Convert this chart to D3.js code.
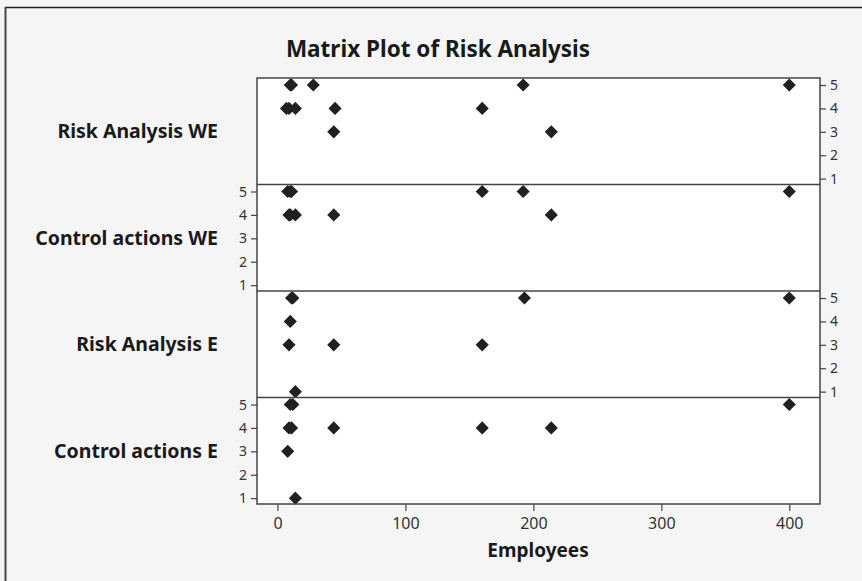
<!DOCTYPE html>
<html>
<head>
<meta charset="utf-8">
<script src="https://d3js.org/d3.v7.min.js"></script>
<style>
  body { margin: 0; background: #f5f5f5; }
  svg { display: block; }
</style>
</head>
<body>
<svg id="chart" width="862" height="581"></svg>
<script>
// Variables plotted against Employees, top to bottom
var variables = ['Risk Analysis WE', 'Control actions WE', 'Risk Analysis E', 'Control actions E'];
// Side that carries the y ticks for each panel (alternates like the original)
var tick_sides = ['right', 'left', 'right', 'left'];
var x_ticks = [0, 100, 200, 300, 400];
var y_ticks = [1, 2, 3, 4, 5];

// [employees, score] pairs
var risk_analysis_we = [[10, 5], [11, 5], [28, 5], [192, 5], [400, 5],
    [7, 4], [9, 4], [14, 4], [45, 4], [160, 4], [44, 3], [214, 3]];
var control_actions_we = [[8, 5], [10, 5], [11, 5], [160, 5], [192, 5], [400, 5],
    [9, 4], [10, 4], [14, 4], [44, 4], [214, 4]];
var risk_analysis_e = [[11, 5], [12, 5], [193, 5], [400, 5], [10, 4],
    [9, 3], [44, 3], [160, 3], [14, 1]];
var control_actions_e = [[10, 5], [12, 5], [400, 5], [9, 4], [11, 4], [44, 4],
    [160, 4], [214, 4], [8, 3], [14, 1]];
var panel_data = [risk_analysis_we, control_actions_we, risk_analysis_e, control_actions_e];

var font = '"Noto Sans", "DejaVu Sans", sans-serif';
// note: "top" is taken by window.top, hence the plot_ prefix
var plot_left = 257, plot_right = 820, plot_top = 78, plot_bottom = 504;
var panel_h = (plot_bottom - plot_top) / variables.length;

var svg = d3.select('#chart');

// Outer frame of the graph window (top and left edges only)
svg.append('line').attr('x1', 5).attr('x2', 862).attr('y1', 7.5).attr('y2', 7.5)
    .attr('stroke', '#222').attr('stroke-width', 1.5);
svg.append('line').attr('x1', 5.5).attr('x2', 5.5).attr('y1', 7).attr('y2', 581)
    .attr('stroke', '#444').attr('stroke-width', 2);

svg.append('text')
    .attr('x', 438).attr('y', 57)
    .attr('text-anchor', 'middle')
    .style('font-family', font).style('font-weight', 'bold').style('font-size', '22.5px')
    .style('fill', '#1a1a1a')
    .text('Matrix Plot of Risk Analysis');

var x = d3.scaleLinear().domain([-16, 424]).range([plot_left, plot_right]);

// White plot area
svg.append('rect')
    .attr('x', plot_left).attr('y', plot_top)
    .attr('width', plot_right - plot_left).attr('height', plot_bottom - plot_top)
    .attr('fill', '#fff');

var diamond = d3.symbol().type(d3.symbolSquare).size(86);

variables.forEach(function (name, i) {
    var y0 = plot_top + i * panel_h;
    var y = d3.scaleLinear().domain([0.75, 5.3]).range([y0 + panel_h, y0]);
    var g = svg.append('g');

    // y axis on alternating sides
    var on_right = tick_sides[i] === 'right';
    var axis = (on_right ? d3.axisRight(y) : d3.axisLeft(y))
        .tickValues(y_ticks).tickFormat(d3.format('d'))
        .tickSizeOuter(0).tickSize(6).tickPadding(4);
    var ax = g.append('g')
        .attr('transform', 'translate(' + (on_right ? plot_right : plot_left) + ',0)')
        .call(axis);
    ax.select('.domain').remove();
    ax.selectAll('line').attr('stroke', '#444').attr('stroke-width', 1.2);
    ax.selectAll('text').style('font-family', font).style('font-size', '14px').style('fill', '#333');

    // Variable name to the left of the panel
    svg.append('text')
        .attr('x', 218).attr('y', y0 + panel_h / 2 + 7)
        .attr('text-anchor', 'end')
        .style('font-family', font).style('font-weight', 'bold').style('font-size', '19.5px')
        .style('fill', '#1a1a1a')
        .text(name);

    g.selectAll('.pt').data(panel_data[i])
        .enter().append('path')
        .attr('class', 'pt')
        .attr('d', diamond)
        .attr('transform', function (d) {
            return 'translate(' + x(d[0]) + ',' + y(d[1]) + ') rotate(45)';
        })
        .attr('fill', '#231f20');

    // Panel separator
    if (i > 0) {
        svg.append('line')
            .attr('x1', plot_left).attr('x2', plot_right).attr('y1', y0).attr('y2', y0)
            .attr('stroke', '#444').attr('stroke-width', 1.5);
    }
});

// Frame around the whole matrix
svg.append('rect')
    .attr('x', plot_left).attr('y', plot_top)
    .attr('width', plot_right - plot_left).attr('height', plot_bottom - plot_top)
    .attr('fill', 'none').attr('stroke', '#444').attr('stroke-width', 1.5);

var xax = svg.append('g')
    .attr('transform', 'translate(0,' + plot_bottom + ')')
    .call(d3.axisBottom(x).tickValues(x_ticks).tickSizeOuter(0).tickSize(7).tickPadding(7));
xax.select('.domain').remove();
xax.selectAll('line').attr('stroke', '#444').attr('stroke-width', 1.2);
xax.selectAll('text').style('font-family', font).style('font-size', '16px').style('fill', '#333');

svg.append('text')
    .attr('x', 538).attr('y', 557)
    .attr('text-anchor', 'middle')
    .style('font-family', font).style('font-weight', 'bold').style('font-size', '19px')
    .style('fill', '#1a1a1a')
    .text('Employees');
</script>
</body>
</html>
